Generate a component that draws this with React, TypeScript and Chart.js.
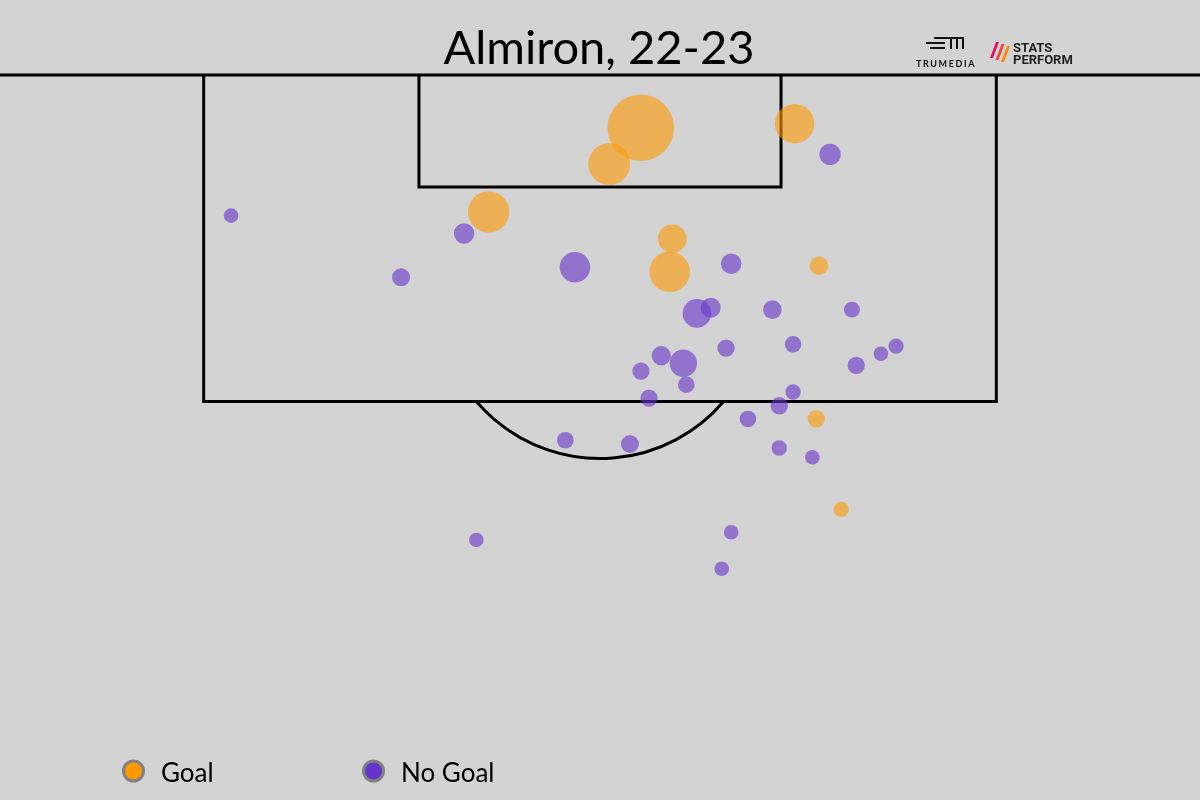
import React, { useEffect, useRef } from "react";
import { Chart, registerables } from "chart.js";

Chart.register(...registerables);

const TITLE = "Almiron, 22-23";
const SERIES_NAMES = ["Goal", "No Goal"];

// Shot locations in metres: x = lateral offset from goal centre (+ = right), y = distance from goal line.
// xG drives the marker size.
const goalX = [2.07, 0.47, 9.88, -5.65, 3.67, 3.54, 11.12, 10.98, 12.25];
const goalY = [2.68, 4.52, 2.47, 6.95, 8.31, 9.99, 9.68, 17.45, 22.05];
const goalXG = [0.768, 0.305, 0.269, 0.297, 0.142, 0.285, 0.06, 0.052, 0.041];

const noGoalX = [
  11.68, -18.73, -6.9, -10.1, -1.27, 6.66, 4.92, 5.62, 8.75, 12.79, 6.4, 9.8, 3.11, 4.23, 2.08,
  4.38, 2.49, 13.01, 14.26, 15.03, 9.8, 9.1, 7.51, -1.76, 1.52, 9.1, 10.78, -6.28, 6.66, 6.18,
];
const noGoalY = [
  4.03, 7.14, 8.04, 10.27, 9.76, 9.58, 12.1, 11.81, 11.91, 11.91, 13.86, 13.67, 14.25, 14.63, 15.03,
  15.72, 16.4, 14.74, 14.15, 13.76, 16.09, 16.79, 17.46, 18.54, 18.73, 18.93, 19.41, 23.6, 23.21, 25.06,
];
const noGoalXG = [
  0.079, 0.037, 0.073, 0.056, 0.162, 0.073, 0.142, 0.069, 0.06, 0.044, 0.052, 0.048, 0.065, 0.13, 0.052,
  0.048, 0.052, 0.052, 0.037, 0.041, 0.041, 0.052, 0.048, 0.048, 0.056, 0.041, 0.037, 0.037, 0.037, 0.037,
];

// Pitch geometry (metres) as drawn in the reference
const PEN_HALF_W = 20.12;
const PEN_DEPTH = 16.57;
const SIX_HALF_W = 9.19;
const SIX_DEPTH = 5.69;
const ARC_CENTER = 11.23;
const ARC_R = 8.24;

const X_MIN = -30.46;
const X_MAX = 30.46;
const Y_MIN = -3.807;
const Y_MAX = 36.8;

const BG = "#d3d3d3";
const GOAL_COLOR = "#ff9900";
const NOGOAL_COLOR = "#6633cc";
const GOAL_FILL = "rgba(255,153,0,0.6)";
const NOGOAL_FILL = "rgba(102,51,204,0.6)";

const FONT = "Lato, 'Open Sans', sans-serif";

const radiusFor = (xg: number) => 38 * Math.sqrt(xg);

const pitchPlugin = {
  id: "pitch",
  beforeDraw(chart: any) {
    const { ctx, width, height } = chart;
    ctx.save();
    ctx.fillStyle = BG;
    ctx.fillRect(0, 0, width, height);
    ctx.restore();
  },
  beforeDatasetsDraw(chart: any) {
    const { ctx } = chart;
    const xs = chart.scales.x;
    const ys = chart.scales.y;
    const px = (v: number) => xs.getPixelForValue(v);
    const py = (v: number) => ys.getPixelForValue(v);
    ctx.save();
    ctx.strokeStyle = "#000";
    ctx.lineWidth = 3;
    ctx.lineJoin = "miter";
    ctx.lineCap = "butt";
    // goal line
    ctx.beginPath();
    ctx.moveTo(px(X_MIN), py(0));
    ctx.lineTo(px(X_MAX), py(0));
    ctx.stroke();
    // penalty box
    ctx.beginPath();
    ctx.moveTo(px(-PEN_HALF_W), py(0));
    ctx.lineTo(px(-PEN_HALF_W), py(PEN_DEPTH));
    ctx.lineTo(px(PEN_HALF_W), py(PEN_DEPTH));
    ctx.lineTo(px(PEN_HALF_W), py(0));
    ctx.stroke();
    // six-yard box
    ctx.beginPath();
    ctx.moveTo(px(-SIX_HALF_W), py(0));
    ctx.lineTo(px(-SIX_HALF_W), py(SIX_DEPTH));
    ctx.lineTo(px(SIX_HALF_W), py(SIX_DEPTH));
    ctx.lineTo(px(SIX_HALF_W), py(0));
    ctx.stroke();
    // arc
    const cx = px(0);
    const cy = py(ARC_CENTER);
    const r = px(ARC_R) - px(0);
    const boxY = py(PEN_DEPTH);
    const a0 = Math.asin(Math.min(1, (boxY - cy) / r));
    ctx.beginPath();
    ctx.arc(cx, cy, r, a0, Math.PI - a0);
    ctx.stroke();
    ctx.restore();
  },
  afterDraw(chart: any) {
    const { ctx } = chart;
    ctx.save();
    // title
    ctx.fillStyle = "#000";
    ctx.font = `47px ${FONT}`;
    ctx.textAlign = "center";
    ctx.textBaseline = "alphabetic";
    ctx.fillText(TITLE, 599, 64);

    // legend
    const items = [
      { label: SERIES_NAMES[0], color: GOAL_COLOR, cx: 133.5, tx: 161 },
      { label: SERIES_NAMES[1], color: NOGOAL_COLOR, cx: 373.5, tx: 401 },
    ];
    ctx.font = `26px ${FONT}`;
    ctx.textAlign = "left";
    items.forEach((it) => {
      ctx.beginPath();
      ctx.arc(it.cx, 771, 10, 0, Math.PI * 2);
      ctx.fillStyle = it.color;
      ctx.fill();
      ctx.lineWidth = 3;
      ctx.strokeStyle = "#808080";
      ctx.stroke();
      ctx.fillStyle = "#000";
      ctx.fillText(it.label, it.tx, 782);
    });

    // TRUMEDIA logo
    ctx.strokeStyle = "#111";
    ctx.lineWidth = 2;
    ctx.beginPath();
    ctx.moveTo(934, 38); ctx.lineTo(945, 38);
    ctx.moveTo(926, 43); ctx.lineTo(945, 43);
    ctx.moveTo(930, 48); ctx.lineTo(945, 48);
    ctx.moveTo(945, 38); ctx.lineTo(964, 38);
    ctx.moveTo(951, 38); ctx.lineTo(951, 49);
    ctx.moveTo(957, 38); ctx.lineTo(957, 49);
    ctx.moveTo(963, 38); ctx.lineTo(963, 49);
    ctx.stroke();
    ctx.fillStyle = "#111";
    ctx.font = `bold 9px ${FONT}`;
    ctx.textAlign = "center";
    (ctx as any).letterSpacing = "1.6px";
    ctx.fillText("TRUMEDIA", 946, 67);
    (ctx as any).letterSpacing = "0px";

    // STATS PERFORM logo
    const bars = ["#e0115f", "#f0493a", "#ff8a00"];
    bars.forEach((c, i) => {
      const x0 = 990 + i * 5.5;
      ctx.beginPath();
      ctx.moveTo(x0 + 6, 42 + i * 2);
      ctx.lineTo(x0 + 9, 42 + i * 2);
      ctx.lineTo(x0 + 3, 62 - (2 - i) * 2);
      ctx.lineTo(x0, 62 - (2 - i) * 2);
      ctx.closePath();
      ctx.fillStyle = c;
      ctx.fill();
    });
    ctx.fillStyle = "#222";
    ctx.font = `bold 13px 'Roboto', ${FONT}`;
    ctx.textAlign = "left";
    ctx.fillText("STATS", 1013, 51.5);
    ctx.fillText("PERFORM", 1013, 63.5);
    ctx.restore();
  },
};

export default function App() {
  const canvasRef = useRef<HTMLCanvasElement | null>(null);

  useEffect(() => {
    if (!canvasRef.current) return;
    const goalData = goalX.map((x, i) => ({ x, y: goalY[i] }));
    const noGoalData = noGoalX.map((x, i) => ({ x, y: noGoalY[i] }));
    const chart = new Chart(canvasRef.current, {
      type: "scatter",
      data: {
        datasets: [
          {
            label: SERIES_NAMES[0],
            data: goalData,
            backgroundColor: GOAL_FILL,
            borderWidth: 0,
            pointRadius: (c: any) => radiusFor(goalXG[c.dataIndex] ?? 0),
            pointHoverRadius: (c: any) => radiusFor(goalXG[c.dataIndex] ?? 0),
          },
          {
            label: SERIES_NAMES[1],
            data: noGoalData,
            backgroundColor: NOGOAL_FILL,
            borderWidth: 0,
            pointRadius: (c: any) => radiusFor(noGoalXG[c.dataIndex] ?? 0),
            pointHoverRadius: (c: any) => radiusFor(noGoalXG[c.dataIndex] ?? 0),
          },
        ],
      },
      options: {
        responsive: false,
        animation: false,
        devicePixelRatio: 1,
        layout: { padding: 0, autoPadding: false },
        plugins: {
          legend: { display: false },
          title: { display: false },
          tooltip: { enabled: false },
        },
        scales: {
          x: { type: "linear", min: X_MIN, max: X_MAX, display: false },
          y: { type: "linear", min: Y_MIN, max: Y_MAX, reverse: true, display: false },
        },
      },
      plugins: [pitchPlugin],
    } as any);
    return () => chart.destroy();
  }, []);

  return (
    <div style={{ position: "absolute", left: 0, top: 0, width: 1200, height: 800, background: BG }}>
      <canvas ref={canvasRef} width={1200} height={800} style={{ display: "block" }} />
    </div>
  );
}
